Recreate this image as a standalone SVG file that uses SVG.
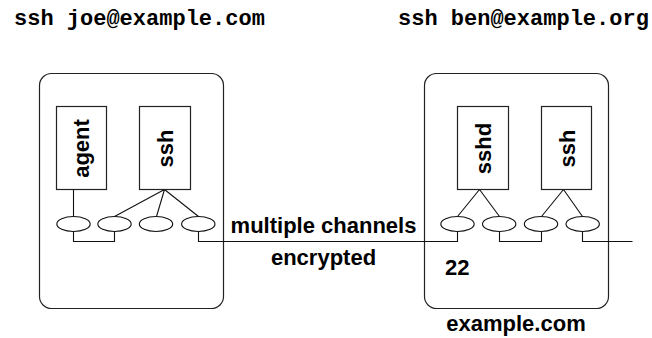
<svg xmlns="http://www.w3.org/2000/svg" width="652" height="338" viewBox="0 0 652 338">
<style>
.box{fill:none;stroke:#222;stroke-width:1.2}
.proc{fill:#fff;stroke:#222;stroke-width:1.2}
.port{fill:#fff;stroke:#111;stroke-width:1.1}
.ln{fill:none;stroke:#111;stroke-width:1.1}
.t{font-family:"Liberation Sans",Arial,sans-serif;font-weight:bold;font-size:22px;fill:#000}
.m{font-family:"Liberation Mono","Courier New",monospace;font-weight:bold;font-size:22px;fill:#000}
</style>
<rect width="652" height="338" fill="#fff"/>
<text class="m" x="14" y="25">ssh joe@example.com</text>
<text class="m" x="398" y="25">ssh ben@example.org</text>
<g id="host-left">
<rect class="box" x="39.5" y="73.5" width="184" height="235" rx="12"/>
</g>
<g id="host-right">
<rect class="box" x="424.5" y="73.5" width="184" height="235" rx="12"/>
</g>
<g id="connectors">
<path class="ln" d="M73.5,189.5V216.5"/>
<path class="ln" d="M73.5,231.5V241.5H114.5V231.5"/>
<path class="ln" d="M164.5,189.5L114.5,216.5M164.5,189.5L156.5,216.5M164.5,189.5L198.5,216.5"/>
<path class="ln" d="M198.5,231.5V241.5H457.5V231.5"/>
<path class="ln" d="M479.5,189.5L457.5,216.5M479.5,189.5L499.5,216.5"/>
<path class="ln" d="M499.5,231.5V241.5H541.5V231.5"/>
<path class="ln" d="M563.5,189.5L541.5,216.5M563.5,189.5L582.5,216.5"/>
<path class="ln" d="M582.5,231.5V241.5H632.5"/>
</g>
<g id="agent">
<rect class="proc" x="56.5" y="106.5" width="50" height="83"/>
<text class="t" text-anchor="middle" transform="translate(88.5,148.5) rotate(-90)">agent</text>
</g>
<g id="ssh-left">
<rect class="proc" x="139.5" y="106.5" width="51" height="83"/>
<text class="t" text-anchor="middle" transform="translate(172.5,148.5) rotate(-90)">ssh</text>
</g>
<g id="sshd">
<rect class="proc" x="457.5" y="106.5" width="51" height="83"/>
<text class="t" text-anchor="middle" transform="translate(490.5,148.5) rotate(-90)">sshd</text>
</g>
<g id="ssh-right">
<rect class="proc" x="541.5" y="106.5" width="50" height="83"/>
<text class="t" text-anchor="middle" transform="translate(574.5,148.5) rotate(-90)">ssh</text>
</g>
<g id="ports-left">
<ellipse class="port" cx="73.5" cy="224" rx="16.7" ry="7.5"/>
<ellipse class="port" cx="114.5" cy="224" rx="16.7" ry="7.5"/>
<ellipse class="port" cx="156" cy="224" rx="16.7" ry="7.5"/>
<ellipse class="port" cx="198.3" cy="224" rx="16.7" ry="7.5"/>
</g>
<g id="ports-right">
<ellipse class="port" cx="457.5" cy="224" rx="16.7" ry="7.5"/>
<ellipse class="port" cx="499.2" cy="224" rx="16.7" ry="7.5"/>
<ellipse class="port" cx="541" cy="224" rx="16.7" ry="7.5"/>
<ellipse class="port" cx="582.7" cy="224" rx="16.7" ry="7.5"/>
</g>
<text class="t" x="323.5" y="233" text-anchor="middle">multiple channels</text>
<text class="t" x="323.5" y="265" text-anchor="middle">encrypted</text>
<text class="t" x="445" y="275">22</text>
<text class="t" x="516" y="331" text-anchor="middle">example.com</text>
</svg>
